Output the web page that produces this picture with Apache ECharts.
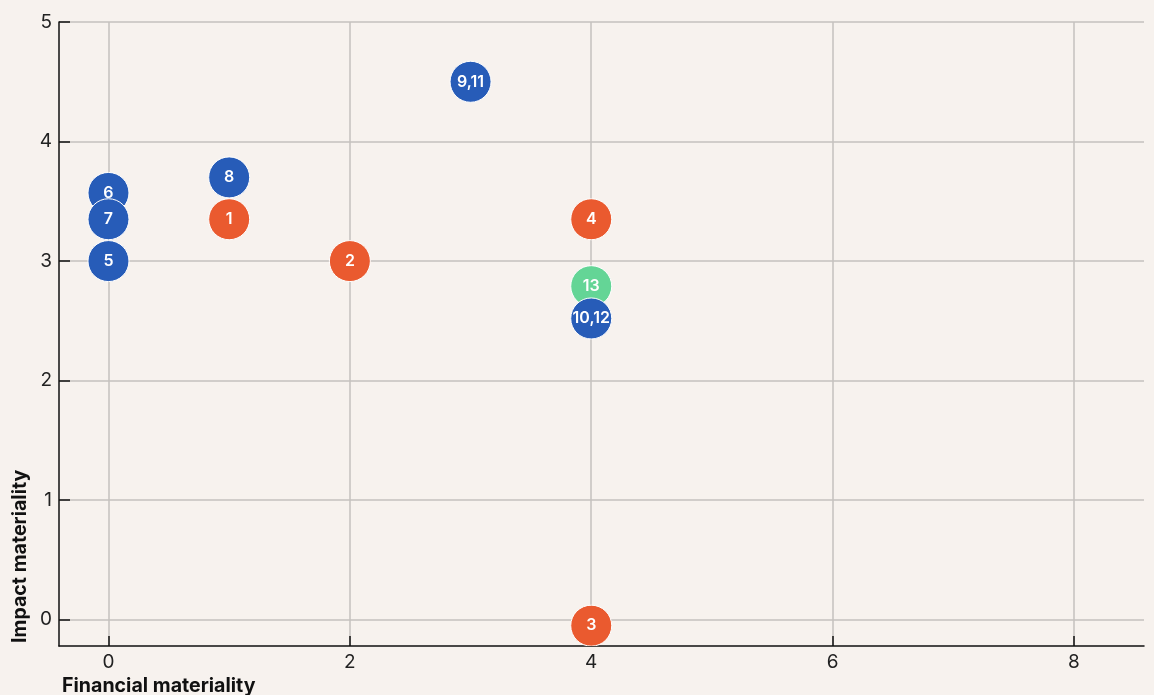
<!DOCTYPE html>
<html>
<head>
<meta charset="utf-8">
<script src="https://cdn.jsdelivr.net/npm/echarts@6/dist/echarts.min.js"></script>
<style>
html,body{margin:0;padding:0;background:#f7f2ee;}
#chart{width:1154px;height:695px;}
</style>
</head>
<body>
<div id="chart"></div>
<script>
// ---- data ----
const labels    = ['1', '2', '3', '4', '5', '6', '7', '8', '9,11', '13', '10,12'];
const financial = [1, 2, 4, 4, 0, 0, 0, 1, 3, 4, 4];
const impact    = [3.35, 3, -0.05, 3.35, 3, 3.57, 3.35, 3.70, 4.5, 2.79, 2.52];
const groups    = ['orange', 'orange', 'orange', 'orange', 'blue', 'blue', 'blue', 'blue', 'blue', 'green', 'blue'];
const xTicks = [0, 2, 4, 6, 8];
const yTicks = [0, 1, 2, 3, 4, 5];
const xTitle = 'Financial materiality';
const yTitle = 'Impact materiality';

const palette = { orange: '#ea5a2f', blue: '#275cb8', green: '#64d596' };
const FONT = 'Inter, "Liberation Sans", sans-serif';

const data = labels.map((l, i) => [financial[i], impact[i], l, groups[i]]);

const chart = echarts.init(document.getElementById('chart'), null, { renderer: 'canvas' });
chart.setOption({
  backgroundColor: '#f7f2ee',
  animation: false,
  grid: { left: 59, right: 10, top: 22, bottom: 49, containLabel: false },
  xAxis: {
    type: 'value', min: -0.41, max: 8.58,
    axisLine: { show: true, onZero: false, lineStyle: { color: '#111', width: 1.5 } },
    axisTick: { show: true, inside: true, length: 10, customValues: xTicks, lineStyle: { color: '#111', width: 1.5 } },
    axisLabel: { customValues: xTicks, color: '#222', fontSize: 19, fontFamily: FONT, margin: 7 },
    splitLine: { show: true, lineStyle: { color: '#c4c1be', width: 1.5 } }
  },
  yAxis: {
    type: 'value', min: -0.22, max: 5,
    axisLine: { show: true, onZero: false, lineStyle: { color: '#111', width: 1.5 } },
    axisTick: { show: true, inside: true, length: 11, customValues: yTicks, lineStyle: { color: '#111', width: 1.5 } },
    axisLabel: { customValues: yTicks, color: '#222', fontSize: 19, fontFamily: FONT, margin: 7 },
    splitLine: { show: true, lineStyle: { color: '#c4c1be', width: 1.5 } }
  },
  graphic: [
    { type: 'text', x: 62, y: 686, style: { text: xTitle, font: 'bold 19.6px ' + FONT, fill: '#111', align: 'left', verticalAlign: 'middle' } },
    { type: 'text', x: 20, y: 643, rotation: Math.PI / 2, style: { text: yTitle, font: 'bold 19.6px ' + FONT, fill: '#111', align: 'left', verticalAlign: 'middle' } }
  ],
  series: [{
    type: 'custom',
    clip: true,
    data: data,
    renderItem: function (params, api) {
      const p = api.coord([api.value(0), api.value(1)]);
      const d = data[params.dataIndex];
      return {
        type: 'group',
        children: [
          { type: 'circle', shape: { cx: p[0], cy: p[1], r: 20.5 }, style: { fill: palette[d[3]], stroke: '#ffffff', lineWidth: 1 } },
          { type: 'text', x: p[0], y: p[1], style: { text: d[2], fill: '#ffffff', align: 'center', verticalAlign: 'middle', font: '600 16px ' + FONT } }
        ]
      };
    }
  }]
});
</script>
</body>
</html>
